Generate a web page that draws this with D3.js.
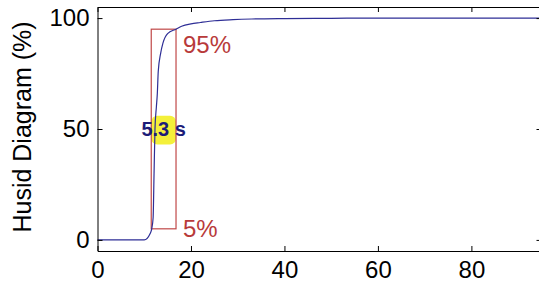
<!DOCTYPE html>
<html>
<head>
<meta charset="utf-8">
<script src="https://cdn.jsdelivr.net/npm/d3@7"></script>
<style>
  body { margin: 0; background: #fff; }
  text { font-family: "Liberation Sans", Arial, sans-serif; }
</style>
</head>
<body>
<script>
// chart data (time in s, husid value in %)
var timeVals = [0, 10, 11.3, 11.6, 11.9, 12.1, 12.3, 12.6, 12.8, 13, 13.5, 14, 15, 16.8, 18, 20, 22, 25, 29, 33, 40, 50, 60, 95];
var husidVals = [0, 0, 3, 5, 10, 30, 50, 60, 66, 76, 84, 88.7, 93, 95, 96.3, 97.4, 98, 98.8, 99.3, 99.6, 99.8, 99.9, 100, 100];
var xTicks = [0, 20, 40, 60, 80];
var yTicks = [0, 50, 100];
var t5 = 11.5, t95 = 16.8;     // 5% and 95% times
var durationLabel = "5.3 s";

var margin = {top: 7, right: 0, bottom: 35, left: 97.5},
    width = 539 - margin.left,
    height = 286 - margin.top - margin.bottom;

// set the ranges
var x = d3.scaleLinear().domain([0, 95]).range([0, 444]);
var y = d3.scaleLinear().domain([-5, 105]).range([height, 0]);

var svg = d3.select("body").append("svg")
    .attr("width", 539)
    .attr("height", 286)
  .append("g")
    .attr("transform", "translate(" + margin.left + "," + margin.top + ")");

var data = timeVals.map(function(t, i) { return {t: t, h: husidVals[i]}; });

// yellow highlight behind the duration label
svg.append("rect")
    .attr("x", x(t5))
    .attr("y", y(56) )
    .attr("width", x(t95) - x(t5))
    .attr("height", y(43) - y(56))
    .attr("rx", 6)
    .attr("fill", "#f4f03a");

// 5%-95% box
svg.append("rect")
    .attr("x", x(t5))
    .attr("y", y(95))
    .attr("width", x(t95) - x(t5))
    .attr("height", y(5) - y(95))
    .attr("fill", "none")
    .attr("stroke", "#c04848")
    .attr("stroke-width", 1.2);

// the curve
var line = d3.line()
    .x(function(d) { return x(d.t); })
    .y(function(d) { return y(d.h); })
    .curve(d3.curveMonotoneX);

svg.append("path")
    .datum(data)
    .attr("d", line)
    .attr("fill", "none")
    .attr("stroke", "#2e2e96")
    .attr("stroke-width", 1.2);

svg.append("text")
    .attr("x", (x(t5) + x(t95)) / 2)
    .attr("y", y(50) + 7)
    .attr("text-anchor", "middle")
    .style("font-size", "20px")
    .style("font-weight", "bold")
    .attr("fill", "#1c1c78")
    .text(durationLabel);

svg.append("text")
    .attr("x", x(t95) + 7)
    .attr("y", y(95) + 24)
    .style("font-size", "24px")
    .attr("fill", "#b83a3a")
    .text("95%");

svg.append("text")
    .attr("x", x(t95) + 7)
    .attr("y", y(5) + 8)
    .style("font-size", "24px")
    .attr("fill", "#b83a3a")
    .text("5%");

// axes: box with inward ticks
var xAxis = svg.append("g")
    .attr("transform", "translate(0," + height + ")")
    .call(d3.axisBottom(x).tickValues(xTicks).tickSizeInner(-5).tickSizeOuter(0).tickPadding(10));
svg.append("g")
    .call(d3.axisTop(x).tickValues(xTicks).tickSizeInner(-5).tickSizeOuter(0).tickFormat(""));
var yAxis = svg.append("g")
    .call(d3.axisLeft(y).tickValues(yTicks).tickSizeInner(-5).tickSizeOuter(0).tickPadding(8));
svg.append("g")
    .attr("transform", "translate(" + x(95) + ",0)")
    .call(d3.axisRight(y).tickValues(yTicks).tickSizeInner(-5).tickSizeOuter(0).tickFormat(""));

svg.selectAll(".domain, .tick line").attr("stroke", "#000");
xAxis.selectAll("text").style("font-size", "24px").attr("fill", "#000");
yAxis.selectAll("text").style("font-size", "24px").attr("fill", "#000");

// text label for the y axis
svg.append("text")
    .attr("transform", "rotate(-90)")
    .attr("x", 0 - y(50) + 2)
    .attr("y", 0 - margin.left + 31)
    .style("text-anchor", "middle")
    .style("font-size", "25px")
    .attr("fill", "#000")
    .text("Husid Diagram (%)");
</script>
</body>
</html>
